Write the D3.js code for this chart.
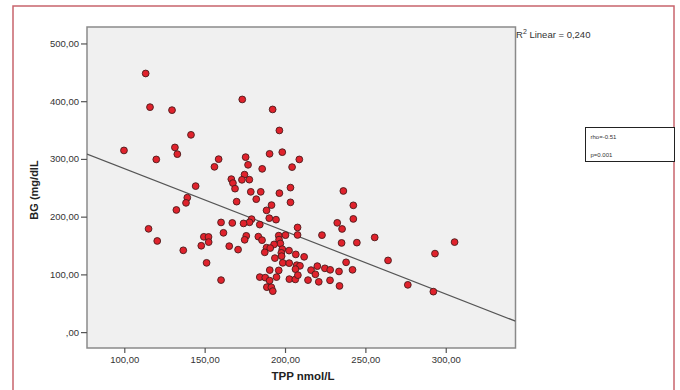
<!DOCTYPE html>
<html>
<head>
<meta charset="utf-8">
<script src="https://cdn.jsdelivr.net/npm/d3@7"></script>
<style>
  html, body { margin: 0; padding: 0; background: #fff; }
  svg { display: block; }
  text { font-family: "Liberation Sans", Arial, sans-serif; }
</style>
</head>
<body>
<svg id="chart" width="680" height="390"></svg>
<script>
// ---- data ----
const tpp = [113.3,116.0,129.7,173.4,192.3,196.5,141.5,99.8,131.5,133.0,119.9,158.7,156.1,175.5,177.0,190.4,198.3,208.9,204.4,185.8,
  166.6,167.6,174.8,173.2,177.8,168.9,144.4,178.7,184.9,196.5,203.4,139.2,236.3,182.1,169.9,191.6,188.5,203.4,132.4,138.4,
  190.2,194.4,179.2,177.9,174.2,167.2,160.2,184.3,115.1,120.5,136.7,149.5,152.4,152.5,147.9,151.2,160.2,161.7,165.3,170.8,
  175.9,174.9,183.4,185.7,196.1,196.3,200.3,207.8,207.8,223.0,232.5,235.5,235.2,242.5,242.5,244.7,255.8,305.5,293.3,264.1,
  238.0,242.0,233.6,233.9,276.4,292.3,197.1,193.2,188.5,187.4,198.3,202.5,197.7,197.9,193.7,198.6,202.6,206.7,211.9,207.3,
  209.3,206.5,196.1,190.5,184.3,187.7,190.4,194.7,202.7,206.4,208.0,214.3,216.2,218.9,221.0,220.1,224.8,228.1,228.0,188.7,
  191.5,192.4,190.8];
const bg = [448.0,389.7,384.5,403.0,385.7,349.3,341.7,314.7,319.9,308.3,299.1,299.6,286.3,303.1,289.8,308.8,311.7,299.1,285.8,282.8,
  265.0,258.1,272.8,263.8,264.1,248.5,252.9,243.0,243.0,240.7,250.3,232.9,244.5,230.3,226.0,220.0,210.9,224.8,211.6,223.9,
  197.4,194.8,195.7,190.2,188.3,189.1,190.0,186.2,178.9,157.9,141.7,165.1,164.9,155.9,149.6,120.0,90.1,172.0,148.9,142.9,
  166.8,159.9,165.4,159.3,167.1,160.2,168.0,181.3,168.3,168.0,189.3,178.7,154.5,219.6,196.1,155.0,164.0,155.9,136.0,124.2,
  120.9,107.9,105.1,80.0,81.9,70.1,153.6,151.9,146.3,138.2,143.7,141.2,137.3,131.6,128.2,120.0,119.5,134.6,130.4,116.0,
  114.8,109.1,106.9,107.4,95.3,94.4,89.2,95.3,91.8,91.3,98.7,90.1,107.4,100.1,87.1,114.3,110.5,107.9,89.7,77.9,
  77.6,71.0,145.6];
const xTickValues = [100, 150, 200, 250, 300];
const xTickLabels = ["100,00", "150,00", "200,00", "250,00", "300,00"];
const yTickValues = [0, 100, 200, 300, 400, 500];
const yTickLabels = [",00", "100,00", "200,00", "300,00", "400,00", "500,00"];
const fitIntercept = 391.9;   // fit line
const fitSlope = -1.086;
const r2Label = "0,240";
const rhoLabel = "rho=-0.51";
const pLabel = "p=0.001";
const xTitle = "TPP nmol/L";
const yTitle = "BG (mg/dlL";

// ---- layout ----
const svg = d3.select("#chart");
const L = 87, T = 27, R = 515.5, B = 348;
const xDomain = [76.8, 343.4];
const yDomain = [-27.5, 528.5];
const x = d3.scaleLinear().domain(xDomain).range([L, R]);
const y = d3.scaleLinear().domain(yDomain).range([B, T]);

// outer frame
svg.append("rect").attr("x", 13).attr("y", 6).attr("width", 661).attr("height", 400)
  .attr("fill", "none").attr("stroke", "#c8646c").attr("stroke-width", 1.5);

// plot background
svg.append("rect").attr("x", L).attr("y", T).attr("width", R - L).attr("height", B - T)
  .attr("fill", "#f0f0f0").attr("stroke", "#8a8a8a").attr("stroke-width", 1.5);

// axes
const yAxis = d3.axisLeft(y).tickValues(yTickValues)
  .tickFormat((d, i) => yTickLabels[i]).tickSize(6).tickPadding(2);
const gy = svg.append("g").attr("transform", `translate(${L},0)`).call(yAxis);
gy.select(".domain").remove();
gy.selectAll("line").attr("stroke", "#555").attr("stroke-width", 1.2);
gy.selectAll("text").attr("font-size", 9.5).attr("fill", "#333");

const xAxis = d3.axisBottom(x).tickValues(xTickValues)
  .tickFormat((d, i) => xTickLabels[i]).tickSize(5).tickPadding(3);
const gx = svg.append("g").attr("transform", `translate(0,${B})`).call(xAxis);
gx.select(".domain").remove();
gx.selectAll("line").attr("stroke", "#555").attr("stroke-width", 1.2);
gx.selectAll("text").attr("font-size", 9.5).attr("fill", "#333");

// clip for fit line
svg.append("clipPath").attr("id", "plotclip").append("rect")
  .attr("x", L).attr("y", T).attr("width", R - L).attr("height", B - T);

// fit line
svg.append("line")
  .attr("clip-path", "url(#plotclip)")
  .attr("x1", x(xDomain[0])).attr("y1", y(fitIntercept + fitSlope * xDomain[0]))
  .attr("x2", x(xDomain[1])).attr("y2", y(fitIntercept + fitSlope * xDomain[1]))
  .attr("stroke", "#555").attr("stroke-width", 1.2);

// points
svg.append("g").selectAll("circle").data(tpp.map((v, i) => [v, bg[i]])).join("circle")
  .attr("cx", d => x(d[0])).attr("cy", d => y(d[1])).attr("r", 3.4)
  .attr("fill", "#e0222c").attr("stroke", "#4a1c1c").attr("stroke-width", 0.9);

// axis titles
svg.append("text").attr("x", 303).attr("y", 380).attr("text-anchor", "middle")
  .attr("font-size", 11.5).attr("font-weight", "bold").attr("fill", "#222").text(xTitle);
svg.append("text").attr("transform", "translate(38,190) rotate(-90)").attr("text-anchor", "middle")
  .attr("font-size", 11).attr("font-weight", "bold").attr("fill", "#222").text(yTitle);

// R2 label
const r2 = svg.append("text").attr("x", 516).attr("y", 38).attr("font-size", 9.5).attr("fill", "#333");
r2.append("tspan").text("R");
r2.append("tspan").attr("dy", -4).attr("font-size", 7).text("2");
r2.append("tspan").attr("dy", 4).text(" Linear = " + r2Label);

// stats box
svg.append("rect").attr("x", 585.5).attr("y", 127.5).attr("width", 89).attr("height", 34)
  .attr("fill", "#fff").attr("stroke", "#222").attr("stroke-width", 1);
svg.append("text").attr("x", 590.5).attr("y", 138.5).attr("font-size", 6).attr("fill", "#333").text(rhoLabel);
svg.append("text").attr("x", 590.5).attr("y", 156.5).attr("font-size", 6).attr("fill", "#333").text(pLabel);
</script>
</body>
</html>
